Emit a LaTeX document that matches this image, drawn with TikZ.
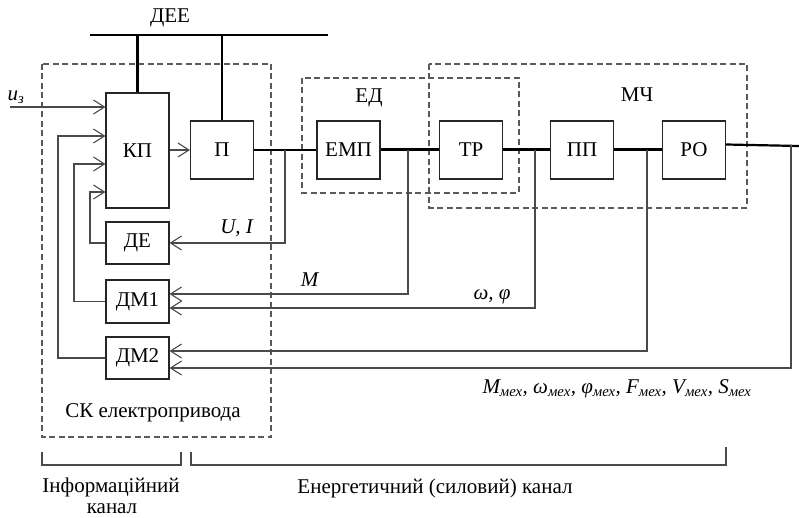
\documentclass[tikz,border=0pt]{standalone}
\usepackage{fontspec}
\setmainfont{Liberation Serif}
\usetikzlibrary{arrows.meta}
\definecolor{lin}{HTML}{4A4A4A}
\definecolor{dsh}{HTML}{5A5A5A}
\tikzset{
  txt/.style={font=\fontsize{21}{25}\selectfont, inner sep=0pt},
  blk/.style={draw=black!85, line width=1.1pt, minimum width=63pt, inner sep=0pt, txt},
  conn/.style={draw=lin, line width=1.1pt, -{Straight Barb[length=11pt,width=14pt]}},
  wire/.style={draw=lin, line width=1.1pt},
  pwr/.style={draw=black, line width=3pt},
  pwrthin/.style={draw=black, line width=1.8pt},
  bus/.style={draw=black, line width=2.2pt},
  dbox/.style={draw=dsh, line width=1.1pt, dash pattern=on 6pt off 3.5pt},
}
\begin{document}
\begin{tikzpicture}[x=1pt,y=-1pt]
\useasboundingbox (0,0) rectangle (799,518);
% dashed groups
\draw[dbox] (42,64) rectangle (271,437);
\draw[dbox] (302,78) rectangle (519,193);
\draw[dbox] (429,64) rectangle (747,208);
% blocks
\node[blk, minimum height=115pt] (KP) at (137.5,150.5) {КП};
\node[blk, minimum height=58pt] (P) at (222,150) {П};
\node[blk, minimum height=58pt] (EMP) at (348.5,150) {ЕМП};
\node[blk, minimum height=58pt] (TR) at (471,150) {ТР};
\node[blk, minimum height=58pt] (PP) at (582,150) {ПП};
\node[blk, minimum height=58pt] (RO) at (694,150) {РО};
\node[blk, minimum height=42pt] (DE) at (137.5,243) {ДЕ};
\node[blk, minimum height=43pt] (DM1) at (137.5,301.5) {ДМ1};
\node[blk, minimum height=42pt] (DM2) at (137.5,358) {ДМ2};
% labels
\node[txt] (lDEE) at (170,18) {ДЕЕ};
\node[txt] (lED) at (369,98) {ЕД};
\node[txt] (lMCh) at (637,95) {МЧ};
\node[txt] (lCK) at (153,413) {СК електропривода};
\node[txt] (lUI) at (237,228) {\textit{U, I}};
\node[txt] (lM) at (310,280) {\textit{M}};
\node[txt] (lwf) at (492,297) {\textit{ω, φ}};
\node[txt] (lmech) at (617,389) {\textit{M\textsubscript{мех}, ω\textsubscript{мех}, φ\textsubscript{мех}, F\textsubscript{мех}, V\textsubscript{мех}, S\textsubscript{мех}}};
\node[txt] (luz) at (16,97) {\textit{u}\textsubscript{\textit{з}}};
\node[txt] (lInf) at (111,487) {Інформаційний};
\node[txt] (lInf2) at (112,509) {канал};
\node[txt] (lEn) at (435,488) {Енергетичний (силовий) канал};
% DEE bus
\coordinate (busL) at (90,35);
\coordinate (busR) at (328,35);
\draw[wire, draw=black] (busL) -- (busR);
\draw[bus] (KP.north |- busL) -- (KP.north);
\draw[bus] (P.north |- busL) -- (P.north);
% power chain
\coordinate (j1) at (285,150);
\coordinate (j2) at (408,150);
\coordinate (j3) at (535,150);
\coordinate (j4) at (647,150);
\coordinate (ROout) at (726,144.5);
\coordinate (j5) at (791,145.5);
\coordinate (outR) at (799,146);
\draw[pwrthin] (P.east) -- (EMP.west);
\draw[pwr] (EMP.east) -- (TR.west);
\draw[pwr] (TR.east) -- (PP.west);
\draw[pwr] (PP.east) -- (RO.west);
\draw[draw=black, line width=2.2pt] (ROout) -- (outR);
% input
\coordinate (uin) at (10,107);
\draw[conn] (uin) -- (uin -| KP.west);
\draw[conn] (KP.east |- P.west) -- (P.west);
% feedback to KP
\draw[conn] (DE.west) -- (90,243) -- (90,192) -- (KP.west |- 0,192);
\draw[conn] (DM1.west) -- (74,301.5) -- (74,164) -- (KP.west |- 0,164);
\draw[conn] (DM2.west) -- (58,358) -- (58,136) -- (KP.west |- 0,136);
% measurement lines
\draw[conn] (j1) |- (DE.east);
\draw[conn] (j2) |- ([yshift=7.5pt]DM1.east);
\draw[conn] (j3) |- ([yshift=-6.5pt]DM1.east);
\draw[conn] (j4) |- ([yshift=7pt]DM2.east);
\draw[conn] (j5) |- ([yshift=-10pt]DM2.east);
% channel brackets
\draw[wire] (42,452) -- (42,465) -- (181,465) -- (181,452);
\draw[wire] (191,452) -- (191,465) -- (726,465) -- (726,447);
\end{tikzpicture}
\end{document}
